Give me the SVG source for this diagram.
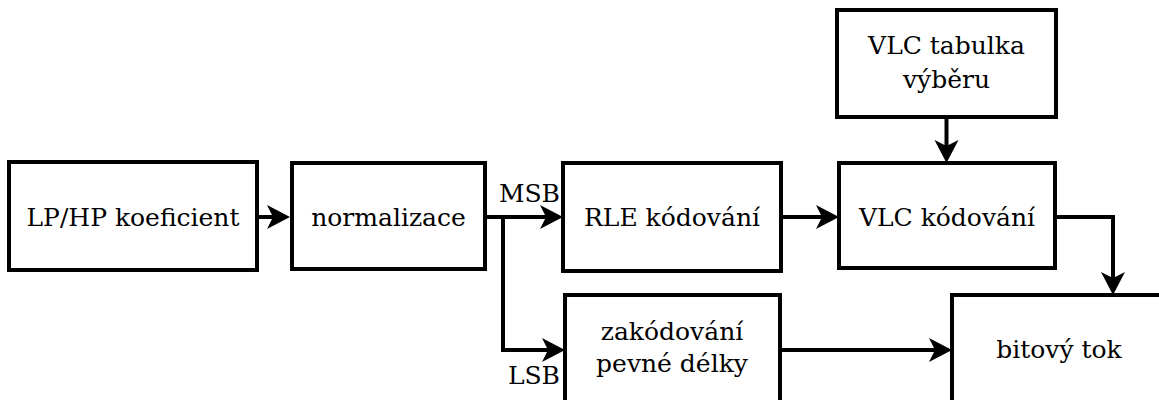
<svg xmlns="http://www.w3.org/2000/svg" width="1159" height="400" viewBox="0 0 1159 400">
  <defs>
    <style>
      .box { fill: #fff; stroke: #000; stroke-width: 4; }
      .lbl { font-family: "DejaVu Serif", "Liberation Serif", serif; font-size: 25px; fill: #000; text-anchor: middle; }
      .tag { font-family: "DejaVu Serif", "Liberation Serif", serif; font-size: 25px; fill: #000; text-anchor: end; }
      .wire { fill: none; stroke: #000; stroke-width: 4; marker-end: url(#stealth); }
    </style>
    <!-- stealth-style arrowhead; line stops 10px short of the tip -->
    <marker id="stealth" markerUnits="userSpaceOnUse" markerWidth="26" markerHeight="26" viewBox="0 -13 26 26" refX="13" refY="0" orient="auto" overflow="visible">
      <path d="M0,-12 L23,0 L0,12 L6,0 Z" fill="#000"/>
    </marker>
  </defs>
  <rect width="1159" height="400" fill="#fff"/>

  <g id="connectors">
    <path class="wire" d="M257,217 H280"/>
    <path class="wire" d="M485,217 H553"/>
    <path class="wire" d="M503,217 V350 H555"/>
    <path class="wire" d="M781,217 H829"/>
    <path class="wire" d="M946.5,117 V153"/>
    <path class="wire" d="M1055,217 H1113 V285"/>
    <path class="wire" d="M780,350 H942"/>
  </g>

  <g id="coef">
    <rect class="box" x="9" y="162" width="248" height="108"/>
    <text class="lbl" x="133" y="226">LP/HP koeficient</text>
  </g>
  <g id="norm">
    <rect class="box" x="292" y="163" width="193" height="106"/>
    <text class="lbl" x="388.5" y="226">normalizace</text>
  </g>
  <g id="rle">
    <rect class="box" x="563" y="163" width="218" height="108"/>
    <text class="lbl" x="672" y="226">RLE kódování</text>
  </g>
  <g id="vlc-table">
    <rect class="box" x="837" y="10" width="219" height="107"/>
    <text class="lbl" x="946.5" y="54">VLC tabulka</text>
    <text class="lbl" x="946.5" y="88">výběru</text>
  </g>
  <g id="vlc">
    <rect class="box" x="839" y="163" width="216" height="105"/>
    <text class="lbl" x="947" y="226">VLC kódování</text>
  </g>
  <g id="fixed">
    <rect class="box" x="565" y="295" width="215" height="130"/>
    <text class="lbl" x="672" y="340">zakódování</text>
    <text class="lbl" x="672" y="372">pevné délky</text>
  </g>
  <g id="stream">
    <rect class="box" x="952" y="295" width="260" height="150"/>
    <text class="lbl" x="1059" y="358">bitový tok</text>
  </g>

  <g id="tags">
    <text class="tag" x="560" y="202">MSB</text>
    <text class="tag" x="560" y="384">LSB</text>
  </g>
</svg>
